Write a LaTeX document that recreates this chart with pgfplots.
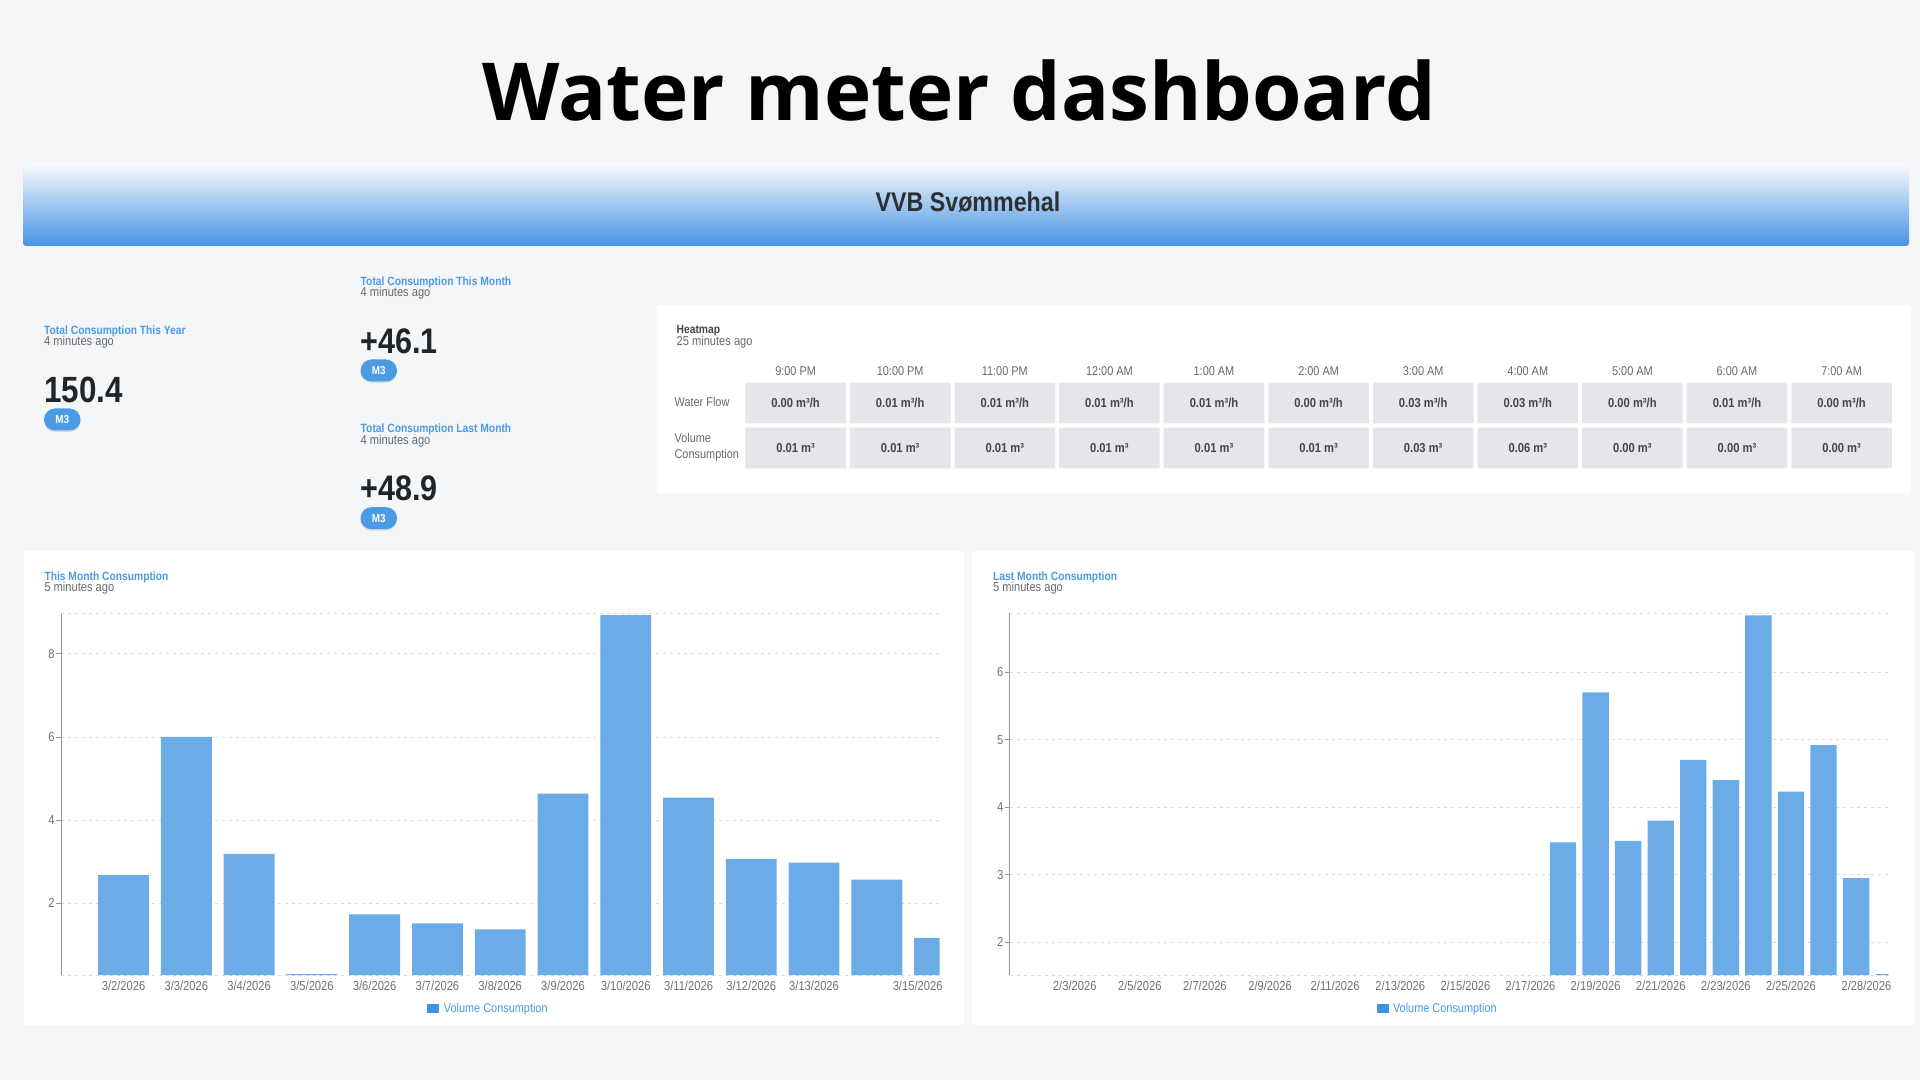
\documentclass[border=0pt]{standalone}
\usepackage{fontspec}
\setmainfont{Liberation Sans}
\newfontfamily\rb[FakeStretch=0.86]{Liberation Sans}
\newfontfamily\opensans{Open Sans}
\usepackage{pgfplots}
\pgfplotsset{compat=1.18}
\definecolor{pagebg}{HTML}{F4F6F8}
\definecolor{tb}{HTML}{4A9BE4}
\definecolor{barc}{HTML}{6AABE8}
\definecolor{legc}{HTML}{3F94E2}
\definecolor{dark}{HTML}{212529}
\definecolor{sub}{HTML}{666A6E}
\definecolor{tick}{HTML}{6E7276}
\definecolor{gridc}{HTML}{D8DBDE}
\definecolor{cell}{HTML}{E4E6E9}
\pgfdeclareplotmark{cellbox}{%
  \pgfsetcornersarced{\pgfpoint{4pt}{4pt}}%
  \pgfpathmoveto{\pgfpoint{-50.3pt}{0pt}}%
  \pgfpathlineto{\pgfpoint{-50.3pt}{20.3pt}}%
  \pgfpathlineto{\pgfpoint{50.3pt}{20.3pt}}%
  \pgfpathlineto{\pgfpoint{50.3pt}{-20.3pt}}%
  \pgfpathlineto{\pgfpoint{-50.3pt}{-20.3pt}}%
  \pgfpathclose
  \pgfusepathqfill}
\pgfplotsset{
  dash/.style={
    scale only axis, height=362pt, clip=true,
    axis lines=left, axis line style={-},
    x axis line style={draw=none},
    y axis line style={draw=tick!75},
    ymajorgrids, grid style={gridc, line width=.8pt, dash pattern=on 3pt off 4pt},
    major tick length=5pt, tick align=outside,
    xtick style={draw=none}, ytick style={draw=tick!75, line width=.6pt},
    /pgf/number format/assume math mode=true,
    tick label style={font=\rb\fontsize{13}{14}\selectfont, text=tick},
    xticklabel style={yshift=-0.5pt, inner sep=0pt},
    yticklabel style={inner sep=1pt},
    extra y tick labels={},
    extra y tick style={major tick length=0pt},
    legend image code/.code={\fill[legc] (0pt,-4.6pt) rectangle (12pt,4.6pt);},
    legend style={draw=none, fill=none, anchor=center, font=\rb\fontsize{12.7}{14}\selectfont, inner sep=0pt},
  }
}
\newcommand{\pill}[2]{%
  \fill[black!15,rounded corners=11pt] (#1,#2+1.5) rectangle (#1+36.5,#2+23.5);
  \fill[tb,rounded corners=11pt] (#1,#2) rectangle (#1+36.5,#2+22);
  \node[text=white,font=\rb\bfseries\fontsize{11.5}{12}\selectfont,inner sep=0pt] at (#1+18.2,#2+11) {M3};}
\newcommand{\kpi}[7]{%
  \node[anchor=west,inner sep=0pt,text=tb,font=\rb\bfseries\fontsize{11.95}{14}\selectfont] at (#1,#2+1) {#3};
  \node[anchor=west,inner sep=0pt,text=sub,font=\rb\fontsize{12.9}{14}\selectfont] at (#1,#2+12) {#4};
  \node[anchor=west,inner sep=0pt,text=dark,font=\rb\bfseries\fontsize{#7}{38}\selectfont] at (#1,#2+#5) {#6};
  \pill{#1}{#2+78.5}}
\begin{document}
\begin{tikzpicture}
\useasboundingbox (0,0) rectangle (1920pt,1080pt);
\begin{scope}[x=1pt,y=-1pt,yshift=1080pt]
  \fill[pagebg] (0,0) rectangle (1920,1080);
  \node[text=black,font=\opensans\bfseries\fontsize{80}{90}\selectfont,inner sep=0pt] at (959,90.5) {Water meter dashboard};
  % banner
  \shade[top color=pagebg!60!white, middle color=tb!50!white, bottom color=tb!95!blue, rounded corners=3pt] (23,164) rectangle (1909,246);
  \node[text=dark!95!white,font=\rb\bfseries\fontsize{27}{30}\selectfont,inner sep=0pt] at (968,202) {VVB Svømmehal};
  % KPI
  \kpi{44}{330}{Total Consumption This Year}{4 minutes ago}{60}{150.4}{36.5}
  \kpi{360.5}{281}{Total Consumption This Month}{4 minutes ago}{60}{+46.1}{35.5}
  \kpi{360.5}{428.7}{Total Consumption Last Month}{4 minutes ago}{60}{+48.9}{35.5}
  % panels
  \fill[white,rounded corners=3pt] (656.5,305) rectangle (1911,493);
  \fill[white,rounded corners=3pt] (23.5,551) rectangle (964,1025);
  \fill[white,rounded corners=3pt] (972,551) rectangle (1915,1025);
  % panel headers
  \node[anchor=west,inner sep=0pt,text=dark!85,font=\rb\bfseries\fontsize{11.95}{14}\selectfont] at (676.5,331) {Heatmap};
  \node[anchor=west,inner sep=0pt,text=sub,font=\rb\fontsize{12.9}{14}\selectfont] at (676.5,342) {25 minutes ago};
  \node[anchor=west,inner sep=0pt,text=tb,font=\rb\bfseries\fontsize{11.95}{14}\selectfont] at (44.3,577.7) {This Month Consumption};
  \node[anchor=west,inner sep=0pt,text=sub,font=\rb\fontsize{12.9}{14}\selectfont] at (44.3,588.5) {5 minutes ago};
  \node[anchor=west,inner sep=0pt,text=tb,font=\rb\bfseries\fontsize{11.95}{14}\selectfont] at (993,577.7) {Last Month Consumption};
  \node[anchor=west,inner sep=0pt,text=sub,font=\rb\fontsize{12.9}{14}\selectfont] at (993,588.5) {5 minutes ago};
\end{scope}

% heatmap
\begin{axis}[
  at={(795.6pt,632pt)}, anchor=south west,
  scale only axis, width=1046pt, height=45pt,
  xmin=0, xmax=10, ymin=0, ymax=1, clip=false,
  axis line style={draw=none}, major tick length=0pt,
  xtick={0,...,10},
  xticklabels={9:00 PM,10:00 PM,11:00 PM,12:00 AM,1:00 AM,2:00 AM,3:00 AM,4:00 AM,5:00 AM,6:00 AM,7:00 AM},
  xticklabel pos=upper,
  ytick={0,1},
  yticklabels={Volume\\Consumption,Water Flow},
  tick label style={font=\rb\fontsize{12.7}{16.7}\selectfont, text=sub},
  xticklabel style={inner sep=0pt, yshift=27.5pt},
  yticklabel style={anchor=west, align=left, inner sep=0pt, xshift=-121.2pt, yshift=0.7pt},
  point meta=explicit symbolic,
  nodes near coords,
  every node near coord/.style={anchor=center, inner sep=0pt, text=dark!85, font=\rb\bfseries\fontsize{13}{14}\selectfont},
]
\addplot[only marks, mark=cellbox, color=cell, mark options={fill=cell,draw=none}] table[x=x,y=y,meta=label] {
x y label
0 1 {0.00 m³/h}
1 1 {0.01 m³/h}
2 1 {0.01 m³/h}
3 1 {0.01 m³/h}
4 1 {0.01 m³/h}
5 1 {0.00 m³/h}
6 1 {0.03 m³/h}
7 1 {0.03 m³/h}
8 1 {0.00 m³/h}
9 1 {0.01 m³/h}
10 1 {0.00 m³/h}
0 0 {0.01 m³}
1 0 {0.01 m³}
2 0 {0.01 m³}
3 0 {0.01 m³}
4 0 {0.01 m³}
5 0 {0.01 m³}
6 0 {0.03 m³}
7 0 {0.06 m³}
8 0 {0.00 m³}
9 0 {0.00 m³}
10 0 {0.00 m³}
};
\end{axis}

% This month
\begin{axis}[dash,
  at={(60.8pt,105pt)}, anchor=south west, width=878.8pt,
  xmin=1, xmax=15, ymin=0.28, ymax=8.98,
  ytick={2,4,6,8}, extra y ticks={0.28,8.98},
  xtick={2,3,4,5,6,7,8,9,10,11,12,13,14.65},
  xticklabels={3/2/2026,3/3/2026,3/4/2026,3/5/2026,3/6/2026,3/7/2026,3/8/2026,3/9/2026,3/10/2026,3/11/2026,3/12/2026,3/13/2026,3/15/2026},
  legend style={at={(0.4867,-0.093)}},
]
\addplot[ybar, bar width=0.81, fill=barc, draw=none] coordinates {
(2,2.68)(3,6.00)(4,3.19)(5,0.30)(6,1.74)(7,1.52)(8,1.375)(9,4.64)(10,8.93)(11,4.54)(12,3.07)(13,2.98)(14,2.57)(15,1.17)};
\addlegendentry{\hspace{2.5pt}\textcolor{tb}{Volume Consumption}}
\end{axis}

% Last month
\begin{axis}[dash,
  at={(1009.6pt,105pt)}, anchor=south west, width=879pt,
  xmin=1, xmax=28, ymin=1.516, ymax=6.874,
  ytick={2,3,4,5,6}, extra y ticks={1.516,6.874},
  xtick={3,5,7,9,11,13,15,17,19,21,23,25,27.32},
  xticklabels={2/3/2026,2/5/2026,2/7/2026,2/9/2026,2/11/2026,2/13/2026,2/15/2026,2/17/2026,2/19/2026,2/21/2026,2/23/2026,2/25/2026,2/28/2026},
  legend style={at={(0.487,-0.093)}},
]
\addplot[ybar, bar width=0.81, fill=barc, draw=none] coordinates {
(18,3.48)(19,5.70)(20,3.50)(21,3.80)(22,4.70)(23,4.40)(24,6.84)(25,4.23)(26,4.92)(27,2.95)(28,1.53)};
\addlegendentry{\hspace{2.5pt}\textcolor{tb}{Volume Consumption}}
\end{axis}
\end{tikzpicture}
\end{document}
